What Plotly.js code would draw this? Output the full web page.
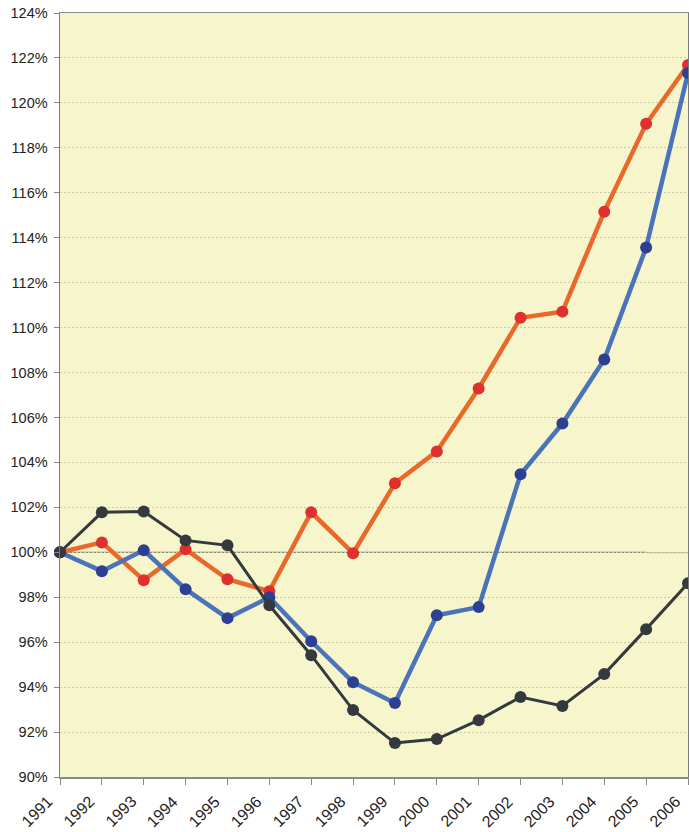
<!DOCTYPE html>
<html>
<head>
<meta charset="utf-8">
<script src="https://cdn.plot.ly/plotly-3.0.1.min.js"></script>
<style>html,body{margin:0;padding:0;background:#fff;overflow:hidden;}#chart{width:689px;height:832px;}</style>
</head>
<body>
<div id="chart"></div>
<script>
const years = [1991,1992,1993,1994,1995,1996,1997,1998,1999,2000,2001,2002,2003,2004,2005,2006];
const yearLabels = ['1991','1992','1993','1994','1995','1996','1997','1998','1999','2000','2001','2002','2003','2004','2005','2006'];
const seriesOrange = [1.000,1.0044,0.9876,1.0013,0.9880,0.9827,1.0178,0.9996,1.0307,1.0449,1.0729,1.1044,1.1071,1.1516,1.1907,1.2169];
const seriesBlue   = [1.000,0.9916,1.0009,0.9836,0.9707,0.9800,0.9604,0.9422,0.9329,0.9720,0.9756,1.0347,1.0573,1.0858,1.1356,1.2133];
const seriesBlack  = [1.000,1.0178,1.0182,1.0053,1.0031,0.9764,0.9542,0.9298,0.9151,0.9169,0.9253,0.9356,0.9316,0.9458,0.9658,0.9862];
const yTicks = [0.90,0.92,0.94,0.96,0.98,1.00,1.02,1.04,1.06,1.08,1.10,1.12,1.14,1.16,1.18,1.20,1.22,1.24];

const traces = [
  {x: years, y: seriesOrange, mode: 'lines+markers', cliponaxis: false,
   line: {color: '#e8692a', width: 4.5}, marker: {color: '#e0302e', size: 12}},
  {x: years, y: seriesBlue, mode: 'lines+markers', cliponaxis: false,
   line: {color: '#4a73b9', width: 4.5}, marker: {color: '#2d3f93', size: 12}},
  {x: years, y: seriesBlack, mode: 'lines+markers', cliponaxis: false,
   line: {color: '#33393c', width: 3}, marker: {color: '#33393c', size: 12}}
];

const yearAnnotations = years.map((yr, i) => ({
  xref: 'x', yref: 'paper', x: yr, y: 0,
  text: yearLabels[i], showarrow: false, textangle: -45,
  xanchor: 'right', yanchor: 'top', xshift: -3, yshift: -14, borderpad: 0,
  font: {size: 16, color: '#222', family: 'Liberation Sans, Arial, sans-serif'}
}));

const layout = {
  width: 689, height: 832,
  margin: {l: 60, r: 1, t: 13, b: 55},
  paper_bgcolor: '#ffffff',
  plot_bgcolor: '#f7f5cb',
  showlegend: false,
  font: {family: 'Liberation Sans, Arial, sans-serif', color: '#222'},
  xaxis: {
    range: [1991, 2006], tickmode: 'array', tickvals: years, showticklabels: false,
    ticks: 'outside', ticklen: 6, tickcolor: '#888',
    showgrid: false, zeroline: false, showline: true, linecolor: '#8a8a8a', linewidth: 1.5,
    mirror: true
  },
  yaxis: {
    range: [0.90, 1.24], tickmode: 'array', tickvals: yTicks,
    ticktext: yTicks.map(v => Math.round(v*100) + '%'),
    ticks: 'outside', ticklen: 5, tickcolor: '#888', ticklabelstandoff: 3,
    showgrid: true, gridcolor: '#cdc8aa', griddash: '2px,2px', gridwidth: 1,
    zeroline: false, showline: true, linecolor: '#7a7a7a', linewidth: 1.5,
    mirror: true, tickfont: {size: 14.5, color: '#222'}
  },
  annotations: yearAnnotations,
  shapes: [
    {type: 'line', xref: 'x', yref: 'y', x0: 1991, x1: 2005, y0: 1.0, y1: 1.0,
     line: {color: '#6a6a60', width: 1}, layer: 'below'},
    {type: 'line', xref: 'x', yref: 'y', x0: 2005, x1: 2006, y0: 0.9998, y1: 0.9998,
     line: {color: '#a8a490', width: 1}, layer: 'below'}
  ]
};

Plotly.newPlot('chart', traces, layout, {staticPlot: true, displayModeBar: false});
</script>
</body>
</html>
